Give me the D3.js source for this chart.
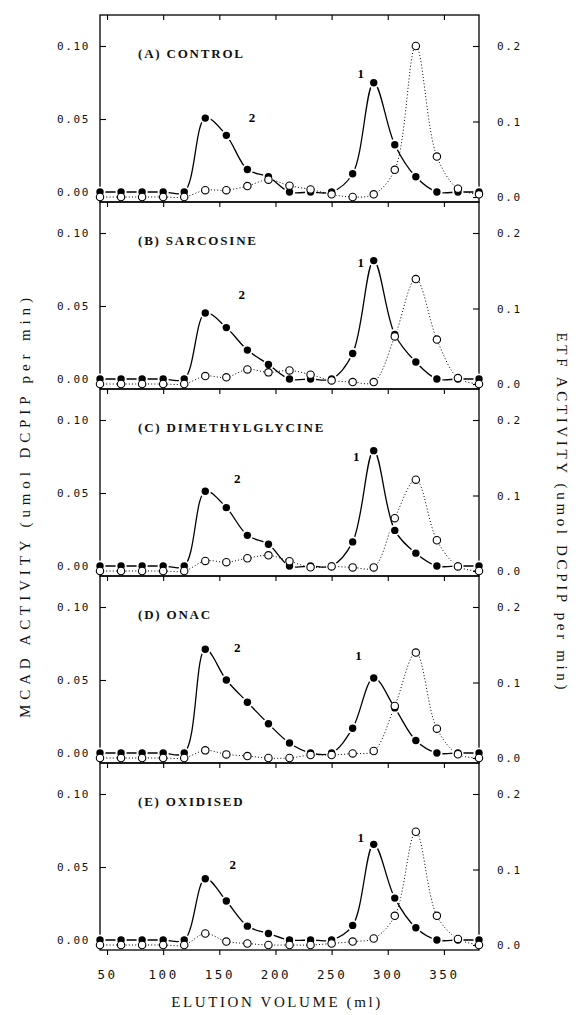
<!DOCTYPE html>
<html>
<head>
<meta charset="utf-8">
<script src="https://cdn.jsdelivr.net/npm/d3@7/dist/d3.min.js"></script>
<style>
body { margin: 0; background: #fff; }
</style>
</head>
<body>
<div id="chart"></div>
<script>
// elution volume of each fraction (ml)
var volume = [43.75, 62.5, 81.25, 100, 118.75, 137.5, 156.25, 175, 193.75, 212.5,
              231.25, 250, 268.75, 287.5, 306.25, 325, 343.75, 362.5, 381.25];

var titles = ["(A) CONTROL", "(B) SARCOSINE", "(C) DIMETHYLGLYCINE", "(D) ONAC", "(E) OXIDISED"];

// MCAD activity (filled circles, left axis)
var mcadA = [0, 0, 0, 0, 0, 0.0506, 0.0388, 0.0154, 0.0104, 0, 0, 0, 0.0125, 0.0748, 0.0324, 0.0104, 0, 0, 0];
var mcadB = [0, 0, 0, 0, 0, 0.0452, 0.0352, 0.0198, 0.0100, 0, 0, 0, 0.0175, 0.0811, 0.0305, 0.0116, 0, 0, 0];
var mcadC = [0, 0, 0, 0, 0, 0.0512, 0.0400, 0.0210, 0.0149, 0, 0, 0, 0.0165, 0.0790, 0.0244, 0.0088, 0, 0, 0];
var mcadD = [0, 0, 0, 0, 0, 0.0711, 0.0500, 0.0348, 0.0200, 0.0068, 0, 0, 0.0170, 0.0514, 0.0309, 0.0086, 0, 0, 0];
var mcadE = [0, 0, 0, 0, 0, 0.0420, 0.0267, 0.0095, 0.0045, 0, 0, 0, 0.0100, 0.0655, 0.0287, 0.0084, 0, 0, 0];

// ETF activity (open circles, right axis)
var etfA = [0, 0, 0, 0, 0, 0.0090, 0.0090, 0.0145, 0.0230, 0.0150, 0.0100, 0.0035, 0, 0.0035, 0.0360, 0.2000, 0.0535, 0.0110, 0.0035];
var etfB = [0, 0, 0, 0, 0, 0.0105, 0.0088, 0.0193, 0.0154, 0.0180, 0.0123, 0.0048, 0.0026, 0.0026, 0.0630, 0.1390, 0.0588, 0.0079, 0];
var etfC = [0, 0, 0, 0, 0, 0.0134, 0.0117, 0.0169, 0.0208, 0.0130, 0.0050, 0.0060, 0.0048, 0.0048, 0.0700, 0.1210, 0.0407, 0.0060, 0];
var etfD = [0, 0, 0, 0, 0, 0.0101, 0.0048, 0.0026, 0, 0, 0.0040, 0.0040, 0.0060, 0.0093, 0.0690, 0.1396, 0.0388, 0.0050, 0];
var etfE = [0, 0, 0, 0, 0, 0.0152, 0.0046, 0.0020, 0, 0, 0, 0.0020, 0.0046, 0.0086, 0.0386, 0.1500, 0.0386, 0.0080, 0];

// peak label anchors (ml, left-axis value)
var peak1X = [276, 276, 272, 274, 276];
var peak1Y = [0.0815, 0.0800, 0.0753, 0.0671, 0.0705];
var peak2X = [179, 170, 166, 166, 162];
var peak2Y = [0.0514, 0.0577, 0.0598, 0.0724, 0.0520];

var xTicks = [50, 100, 150, 200, 250, 300, 350];
var leftTicks = [0, 0.05, 0.10];
var rightTicks = [0, 0.1, 0.2];

var mcadSets = [mcadA, mcadB, mcadC, mcadD, mcadE];
var etfSets = [etfA, etfB, etfC, etfD, etfE];

var W = 584, H = 1015;
var left = 100, right = 479, ph = 187;
var tops = [15, 202, 389, 576, 763];

var svg = d3.select("#chart").append("svg")
    .attr("width", W)
    .attr("height", H);

var x = d3.scaleLinear().domain([43.75, 381.25]).range([left, right]);

var tickFont = "DejaVu Sans Mono";

function styleAxis(sel, size, spacing) {
    sel.select(".domain").remove();
    sel.selectAll("line").attr("stroke", "#000").attr("stroke-width", 1.1);
    sel.selectAll("text")
        .attr("font-family", tickFont)
        .attr("font-size", size)
        .attr("letter-spacing", spacing)
        .attr("fill", "#111");
}

titles.forEach(function (t, i) {
    var top = tops[i];
    var yL = d3.scaleLinear().domain([0, 0.10]).range([top + 177, top + 31]);
    var yR = d3.scaleLinear().domain([0, 0.2]).range([top + 182, top + 31]);

    var g = svg.append("g");

    // top ticks (pointing down)
    g.append("g")
        .attr("transform", "translate(0," + top + ")")
        .call(d3.axisTop(x).tickValues(xTicks).tickSize(-5).tickFormat(""))
        .call(styleAxis, 11, 0);

    // left axis
    g.append("g")
        .attr("transform", "translate(" + left + ",0)")
        .call(d3.axisLeft(yL).tickValues(leftTicks).tickSize(-6).tickPadding(10).tickFormat(d3.format(".2f")))
        .call(styleAxis, 11, 1.6);

    // right axis
    g.append("g")
        .attr("transform", "translate(" + right + ",0)")
        .call(d3.axisRight(yR).tickValues(rightTicks).tickSize(-6).tickPadding(18).tickFormat(d3.format(".1f")))
        .call(styleAxis, 11, 1.6);

    // bottom axis with labels on the last panel only
    if (i === titles.length - 1) {
        g.append("g")
            .attr("transform", "translate(0," + (top + ph) + ")")
            .call(d3.axisBottom(x).tickValues(xTicks).tickSize(5).tickPadding(15))
            .call(styleAxis, 12.5, 2.6);
    }

    // frame
    g.append("rect")
        .attr("x", left)
        .attr("y", top)
        .attr("width", right - left)
        .attr("height", ph)
        .attr("fill", "none")
        .attr("stroke", "#000")
        .attr("stroke-width", 1.3);

    var mcad = mcadSets[i], etf = etfSets[i];

    var lineL = d3.line()
        .x(function (d, j) { return x(volume[j]); })
        .y(function (d) { return yL(d); })
        .curve(d3.curveCatmullRom.alpha(0.5));
    var lineR = d3.line()
        .x(function (d, j) { return x(volume[j]); })
        .y(function (d) { return yR(d); })
        .curve(d3.curveCatmullRom.alpha(0.5));

    // ETF dotted line
    g.append("path")
        .datum(etf)
        .attr("d", lineR)
        .attr("fill", "none")
        .attr("stroke", "#000")
        .attr("stroke-width", 1)
        .attr("stroke-dasharray", "1,2.2");

    // MCAD line
    g.append("path")
        .datum(mcad)
        .attr("d", lineL)
        .attr("fill", "none")
        .attr("stroke", "#000")
        .attr("stroke-width", 1.3);

    // white halo to break the line around each filled marker
    g.selectAll(".halo")
        .data(mcad)
        .enter()
        .append("circle")
        .attr("cx", function (d, j) { return x(volume[j]); })
        .attr("cy", function (d) { return yL(d); })
        .attr("r", 5.6)
        .attr("fill", "#fff");

    // filled markers
    g.selectAll(".fill")
        .data(mcad)
        .enter()
        .append("circle")
        .attr("cx", function (d, j) { return x(volume[j]); })
        .attr("cy", function (d) { return yL(d); })
        .attr("r", 3.7)
        .attr("fill", "#000");

    // open markers
    g.selectAll(".open")
        .data(etf)
        .enter()
        .append("circle")
        .attr("cx", function (d, j) { return x(volume[j]); })
        .attr("cy", function (d) { return yR(d); })
        .attr("r", 3.7)
        .attr("fill", "#fff")
        .attr("stroke", "#000")
        .attr("stroke-width", 1.1);

    // panel title
    g.append("text")
        .attr("x", 138)
        .attr("y", top + 43)
        .attr("font-family", "Liberation Serif")
        .attr("font-size", 13)
        .attr("font-weight", "bold")
        .attr("letter-spacing", 1.8)
        .attr("fill", "#111")
        .text(t);

    // peak labels
    g.append("text")
        .attr("x", x(peak1X[i]))
        .attr("y", yL(peak1Y[i]))
        .attr("dy", "0.35em")
        .attr("text-anchor", "middle")
        .attr("font-family", "Liberation Serif")
        .attr("font-size", 13)
        .attr("font-weight", "bold")
        .text("1");
    g.append("text")
        .attr("x", x(peak2X[i]))
        .attr("y", yL(peak2Y[i]))
        .attr("dy", "0.35em")
        .attr("text-anchor", "middle")
        .attr("font-family", "Liberation Serif")
        .attr("font-size", 13)
        .attr("font-weight", "bold")
        .text("2");
});

// axis titles
svg.append("text")
    .attr("transform", "translate(30,508) rotate(-90)")
    .attr("text-anchor", "middle")
    .attr("font-family", "Liberation Serif")
    .attr("font-size", 15)
    .attr("textLength", 420)
    .attr("lengthAdjust", "spacing")
    .attr("fill", "#111")
    .text("MCAD ACTIVITY  (umol DCPIP per min)");

svg.append("text")
    .attr("transform", "translate(557,511) rotate(90)")
    .attr("text-anchor", "middle")
    .attr("font-family", "Liberation Serif")
    .attr("font-size", 15)
    .attr("textLength", 357)
    .attr("lengthAdjust", "spacing")
    .attr("fill", "#111")
    .text("ETF ACTIVITY (umol DCPIP per min)");

svg.append("text")
    .attr("x", 277)
    .attr("y", 1007)
    .attr("text-anchor", "middle")
    .attr("font-family", "Liberation Serif")
    .attr("font-size", 15)
    .attr("letter-spacing", 2.6)
    .attr("fill", "#111")
    .text("ELUTION VOLUME (ml)");
</script>
</body>
</html>
